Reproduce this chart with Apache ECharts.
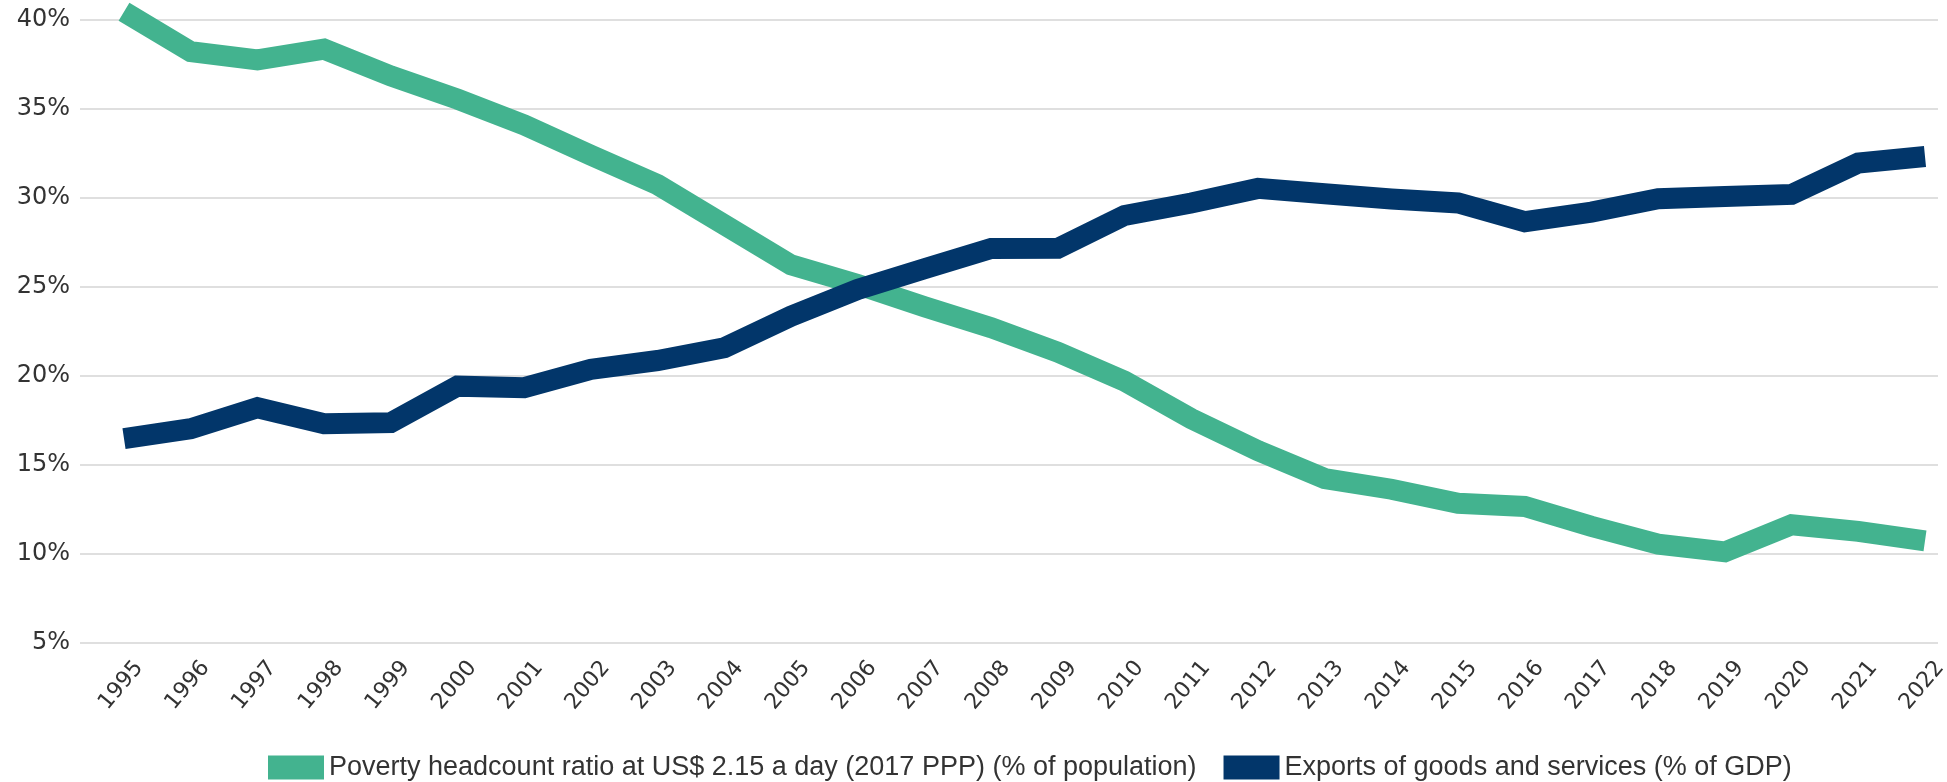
<!DOCTYPE html>
<html>
<head>
<meta charset="utf-8">
<script src="https://cdn.jsdelivr.net/npm/echarts@6/dist/echarts.min.js"></script>
<style>
  html, body { margin: 0; padding: 0; background: #fff; }
  #chart { width: 1947px; height: 782px; }
</style>
</head>
<body>
<div id="chart"></div>
<script>
// years on the x axis
const years = ['1995', '1996', '1997', '1998', '1999', '2000', '2001', '2002', '2003', '2004',
  '2005', '2006', '2007', '2008', '2009', '2010', '2011', '2012', '2013', '2014',
  '2015', '2016', '2017', '2018', '2019', '2020', '2021', '2022']

// Poverty headcount ratio at US$ 2.15 a day (% of population)
const poverty = [40.47, 38.22, 37.76, 38.36, 36.86, 35.55, 34.11, 32.4, 30.75, 28.5,
  26.24, 25.14, 23.89, 22.71, 21.34, 19.71, 17.6, 15.8, 14.24, 13.64,
  12.85, 12.67, 11.55, 10.55, 10.12, 11.64, 11.27, 10.74]

// Exports of goods and services (% of GDP)
const exportsGdp = [16.48, 17.04, 18.22, 17.32, 17.38, 19.43, 19.34, 20.37, 20.87, 21.59,
  23.36, 24.86, 26.03, 27.16, 27.17, 29.02, 29.72, 30.54, 30.24, 29.94,
  29.72, 28.67, 29.21, 29.96, 30.09, 30.2, 31.96, 32.33]

const seriesNames = [
  'Poverty headcount ratio at US$ 2.15 a day (2017 PPP) (% of population)',
  'Exports of goods and services (% of GDP)'
]

const yMin = 5
const yMax = 40
const yStep = 5

const green = '#43b38f'
const navy = '#02366a'
const axisFont = 'DejaVu Sans'
const legendFont = 'Liberation Sans'

const chart = echarts.init(document.getElementById('chart'))

const option = {
  animation: false,
  backgroundColor: '#fff',
  textStyle: { fontFamily: axisFont },
  legend: {
    left: 263,
    top: 749,
    icon: 'rect',
    itemWidth: 56,
    itemHeight: 24,
    itemGap: 27,
    textStyle: { fontFamily: legendFont, fontSize: 27, color: '#333' },
    data: seriesNames
  },
  // grid 0: wide gridlines + y labels, grid 1: the lines, grid 2: year labels (sit a bit right of the ticks)
  grid: [
    { left: 80, right: 9, top: 20, bottom: 139, outerBoundsMode: 'none' },
    { left: 124, right: 22, top: 20, bottom: 139, outerBoundsMode: 'none' },
    { left: 139, right: 7, top: 20, bottom: 139, outerBoundsMode: 'none' }
  ],
  xAxis: [
    { gridIndex: 0, type: 'value', min: 0, max: 1, show: false },
    {
      gridIndex: 1,
      type: 'category',
      boundaryGap: false,
      data: years,
      axisLine: { show: false },
      axisTick: { show: false },
      axisLabel: { show: false }
    },
    {
      gridIndex: 2,
      type: 'category',
      boundaryGap: false,
      data: years,
      axisLine: { show: false },
      axisTick: { show: false },
      axisLabel: {
        rotate: 50,
        margin: 21,
        interval: 0,
        fontFamily: axisFont,
        fontSize: 22,
        color: '#333'
      }
    }
  ],
  yAxis: [
    {
      gridIndex: 0,
      type: 'value',
      min: yMin,
      max: yMax,
      interval: yStep,
      axisLine: { show: false },
      axisTick: { show: false },
      axisLabel: {
        formatter: '{value}%',
        margin: 10,
        fontFamily: axisFont,
        fontSize: 24,
        color: '#333'
      },
      splitLine: { lineStyle: { color: '#dfdfdf', width: 2 } }
    },
    { gridIndex: 1, type: 'value', min: yMin, max: yMax, interval: yStep, show: false, splitLine: { show: false } },
    { gridIndex: 2, type: 'value', min: yMin, max: yMax, interval: yStep, show: false, splitLine: { show: false } }
  ],
  series: [
    {
      name: seriesNames[0],
      type: 'line',
      xAxisIndex: 1,
      yAxisIndex: 1,
      data: poverty,
      symbol: 'none',
      clip: false,
      color: green,
      lineStyle: { color: green, width: 21, cap: 'butt', join: 'miter' }
    },
    {
      name: seriesNames[1],
      type: 'line',
      xAxisIndex: 1,
      yAxisIndex: 1,
      data: exportsGdp,
      symbol: 'none',
      clip: false,
      color: navy,
      lineStyle: { color: navy, width: 21, cap: 'butt', join: 'miter' }
    }
  ]
}

option && chart.setOption(option)
</script>
</body>
</html>
